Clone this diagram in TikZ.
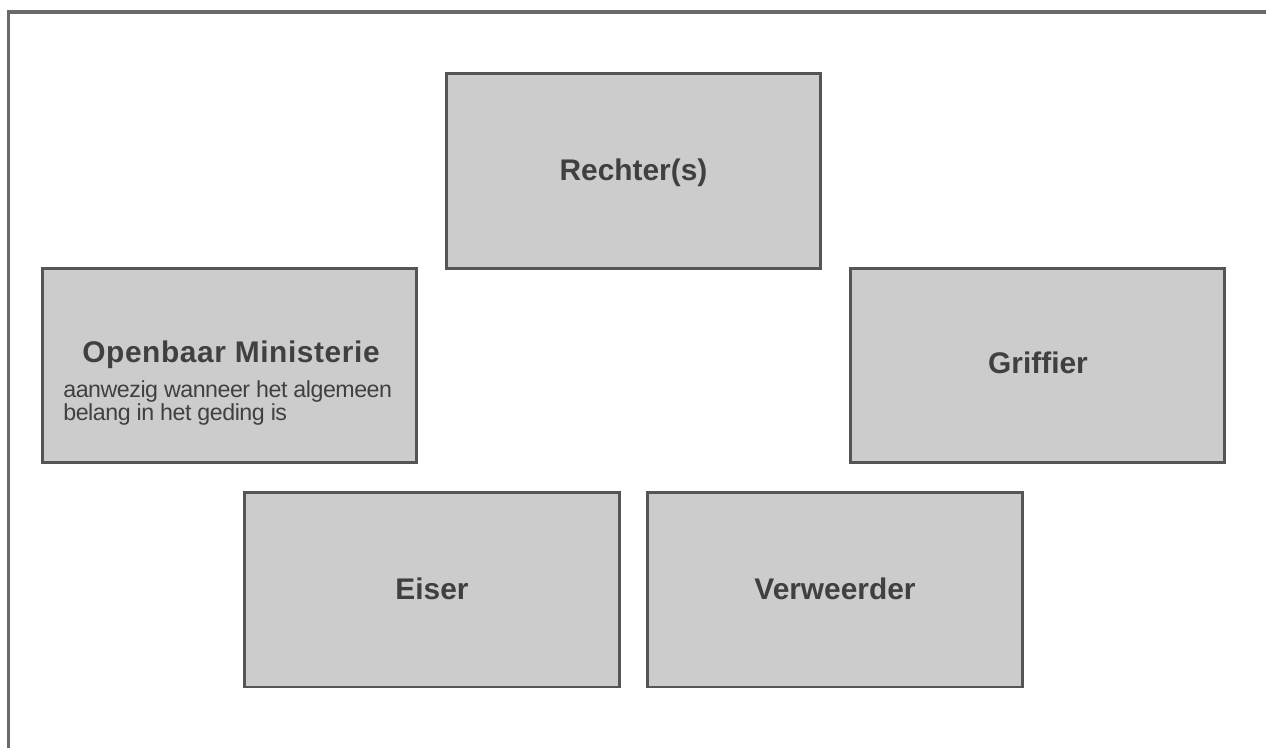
\documentclass[tikz,border=0pt]{standalone}
\usepackage{fontspec}
\setmainfont{Liberation Sans}
\definecolor{boxfill}{HTML}{CCCCCC}
\definecolor{boxline}{HTML}{555555}
\definecolor{boxtext}{HTML}{404040}
\definecolor{frameline}{HTML}{6A6A6A}
\tikzset{
  party/.style={rectangle, draw=boxline, fill=boxfill, line width=1.7pt, minimum width=7.5cm, minimum height=3.9cm, inner sep=0pt},
  partyname/.style={text=boxtext, font=\fontsize{17}{20}\selectfont\bfseries},
  partynote/.style={text=boxtext, font=\fontsize{13.2}{11.2}\selectfont\addfontfeatures{LetterSpace=-2}, align=left, inner sep=0pt}
}
\begin{document}
\begin{tikzpicture}[x=0.02cm, y=-0.02cm]
  \useasboundingbox (0, 0) rectangle (1266, 747);
  % Frame
  \draw[frameline, line width=2.2pt] (8.5, 760) -- (8.5, 12) -- (1280, 12);
  % Nodes
  \node (R) [party] at (633.5, 171) {};
  \node (OM) [party] at (229.5, 365.5) {};
  \node (G) [party] at (1037.5, 365.5) {};
  \node (E) [party] at (432, 589.5) {};
  \node (V) [party] at (835, 589.5) {};
  % Labels
  \node (Rtext) [partyname] at (633.5, 173) {Rechter(s)};
  \node (OMtext) [partyname, anchor=base] at (231, 362) {\addfontfeatures{LetterSpace=2}Openbaar Ministerie};
  \node (OMnote) [partynote, anchor=north west] at (63, 380) {aanwezig wanneer het algemeen\\belang in het geding is};
  \node (Gtext) [partyname] at (1038, 363) {Griffier};
  \node (Etext) [partyname] at (432, 589) {Eiser};
  \node (Vtext) [partyname] at (835, 589) {Verweerder};
\end{tikzpicture}
\end{document}
